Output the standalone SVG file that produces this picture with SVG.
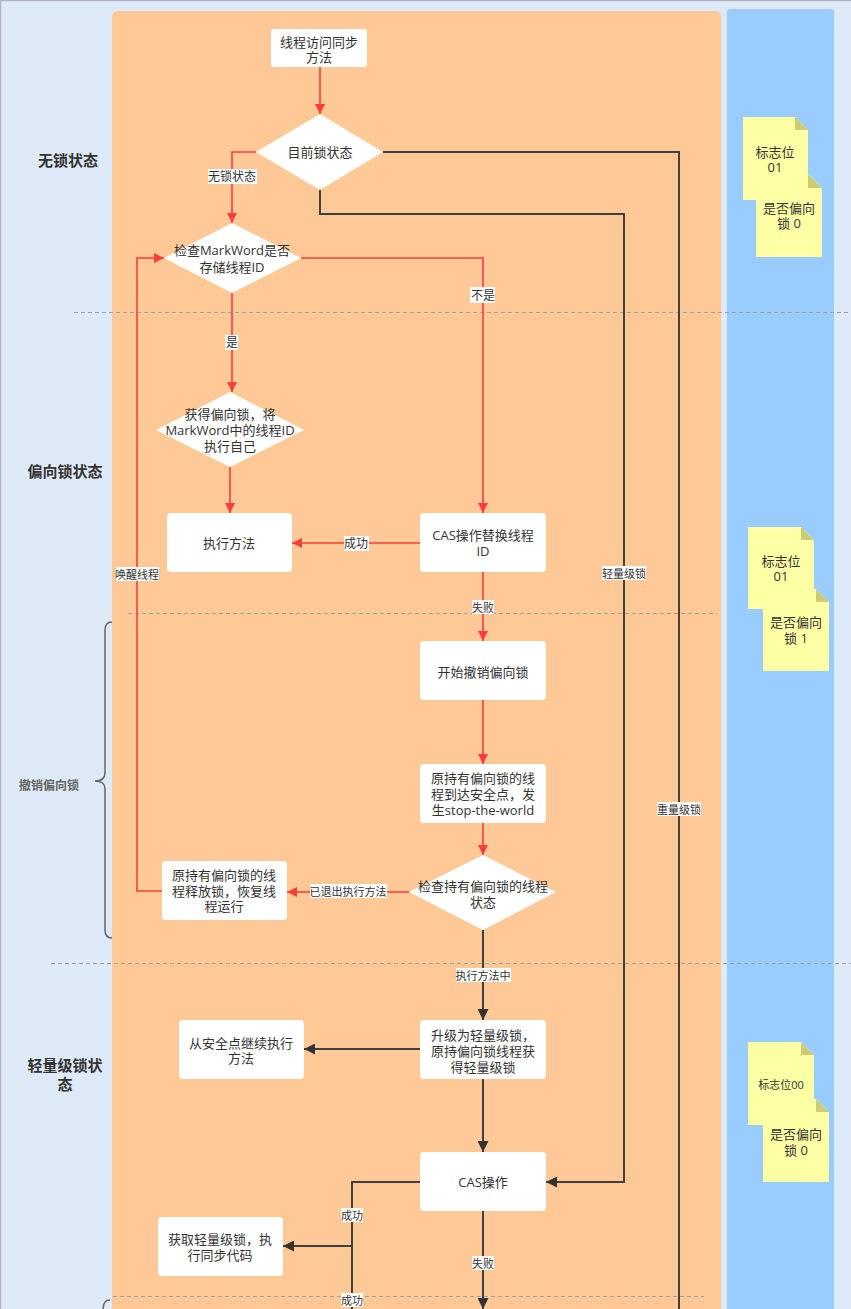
<svg xmlns="http://www.w3.org/2000/svg" width="851" height="1309" viewBox="0 0 851 1309">
<style>
text{font-family:"Open Sans","Noto Sans CJK SC",sans-serif;fill:#333;dominant-baseline:central;text-anchor:middle}
.nt{font-size:13px}
.lane{font-size:15px;font-weight:bold}
.l12{font-size:12px}
.l11{font-size:11px}
.box{fill:#fff}
.red{fill:none;stroke:#ff3b3b;stroke-width:1.6}
.dark{fill:none;stroke:#404040;stroke-width:2}
.dash{stroke:#a0a0a0;stroke-width:1;stroke-dasharray:4 3;fill:none}
.lb{fill:#fff}
.note{fill:#ffffa6}
.fold{fill:#cccc77}
</style>
<defs>
<marker id="ar" viewBox="0 0 10 10" refX="10" refY="5" markerWidth="10" markerHeight="10" markerUnits="userSpaceOnUse" orient="auto"><path d="M0,0L10,5L0,10z" fill="#ff3b3b"/></marker>
<marker id="ad" viewBox="0 0 10 10" refX="10" refY="5" markerWidth="11" markerHeight="11" markerUnits="userSpaceOnUse" orient="auto"><path d="M0,0L10,5L0,10z" fill="#333"/></marker>
</defs>
<g id="background">
<rect x="0" y="0" width="851" height="1309" fill="#dfeaf8"/>
<path d="M0.5,1309V0.5H851" fill="none" stroke="#b0b4c0" stroke-width="1.5"/>
<rect x="112" y="11" width="609" height="1310" rx="5" fill="#fec997"/>
<rect x="727" y="9" width="107" height="1310" rx="3" fill="#99ccff"/>
<line class="dash" x1="74" y1="312.5" x2="851" y2="312.5"/>
<line class="dash" x1="128" y1="613.5" x2="717" y2="613.5"/>
<line class="dash" x1="51" y1="963.5" x2="851" y2="963.5"/>
<line class="dash" x1="113" y1="1296.5" x2="704" y2="1296.5"/>
</g>
<g id="lanes">
<text class="lane" x="68" y="160">无锁状态</text>
<text class="lane" x="65" y="471">偏向锁状态</text>
<text x="49" y="785" style="font-size:12px;font-weight:bold;fill:#666">撤销偏向锁</text>
<path d="M112,622 Q105,622 105,630 L105,773 Q105,781 95,781 Q105,781 105,789 L105,930 Q105,938 112,938" fill="none" stroke="#666" stroke-width="1.5"/>
<text class="lane" x="65" y="1065">轻量级锁状</text>
<text class="lane" x="65" y="1084">态</text>
<path d="M110,1300 Q103,1300 103,1310" fill="none" stroke="#666" stroke-width="1.5"/>
</g>
<g id="connectors">
<path class="red" d="M320,67V114" marker-end="url(#ar)"/>
<path class="red" d="M256,152H232V223" marker-end="url(#ar)"/>
<path class="red" d="M232,293V392" marker-end="url(#ar)"/>
<path class="red" d="M230,467V513" marker-end="url(#ar)"/>
<path class="red" d="M301,258H483V513" marker-end="url(#ar)"/>
<path class="red" d="M420,543H292" marker-end="url(#ar)"/>
<path class="red" d="M483,572V641" marker-end="url(#ar)"/>
<path class="red" d="M483,700V764" marker-end="url(#ar)"/>
<path class="red" d="M483,823V855" marker-end="url(#ar)"/>
<path class="red" d="M409,892H287" marker-end="url(#ar)"/>
<path class="red" d="M162,891H137V258H164" marker-end="url(#ar)"/>
<path class="dark" d="M383,152H679V1320"/>
<path class="dark" d="M320,190V214H624V1182H546" marker-end="url(#ad)"/>
<path class="dark" d="M483,930V1020" marker-end="url(#ad)"/>
<path class="dark" d="M420,1049H304" marker-end="url(#ad)"/>
<path class="dark" d="M483,1079V1152" marker-end="url(#ad)"/>
<path class="dark" d="M420,1182H352V1320"/>
<path class="dark" d="M352,1246H283" marker-end="url(#ad)"/>
<path class="dark" d="M483,1211V1309" marker-end="url(#ad)"/>
<rect class="lb" x="208" y="169" width="49" height="15"/><text class="l12" x="232" y="176">无锁状态</text>
<rect class="lb" x="225" y="335" width="13" height="15"/><text class="l12" x="232" y="342">是</text>
<rect class="lb" x="470" y="287" width="25" height="16"/><text class="l12" x="483" y="295">不是</text>
<rect class="lb" x="344" y="536" width="25" height="15"/><text class="l12" x="356" y="543">成功</text>
<rect class="lb" x="472" y="600" width="22" height="14"/><text class="l11" x="483" y="607">失败</text>
<rect class="lb" x="116" y="567" width="43" height="14"/><text class="l11" x="137" y="574">唤醒线程</text>
<rect class="lb" x="310" y="884" width="77" height="14"/><text class="l11" x="348" y="891">已退出执行方法</text>
<rect class="lb" x="602" y="566" width="44" height="14"/><text class="l11" x="624" y="573">轻量级锁</text>
<rect class="lb" x="657" y="802" width="44" height="14"/><text class="l11" x="679" y="809">重量级锁</text>
<rect class="lb" x="456" y="968" width="55" height="14"/><text class="l11" x="483" y="975">执行方法中</text>
<rect class="lb" x="341" y="1208" width="22" height="14"/><text class="l11" x="352" y="1215">成功</text>
<rect class="lb" x="341" y="1293" width="22" height="14"/><text class="l11" x="352" y="1300">成功</text>
<rect class="lb" x="472" y="1256" width="22" height="14"/><text class="l11" x="483" y="1263">失败</text>
</g>
<g id="n1"><rect class="box" x="271" y="29" width="96" height="38" rx="3"/><text class="nt" x="319" y="42">线程访问同步</text><text class="nt" x="319" y="57">方法</text></g>
<g id="n2"><polygon class="box" points="320,114 383,152 320,190 256,152"/><text class="nt" x="320" y="152">目前锁状态</text></g>
<g id="n3"><polygon class="box" points="232,223 301,258 232,293 164,258"/><text class="nt" x="232" y="250">检查MarkWord是否</text><text class="nt" x="232" y="267">存储线程ID</text></g>
<g id="n4"><polygon class="box" points="230,392 304,430 230,467 156,430"/><text class="nt" x="230" y="414">获得偏向锁，将</text><text class="nt" x="230" y="430">MarkWord中的线程ID</text><text class="nt" x="230" y="446">执行自己</text></g>
<g id="n5"><rect class="box" x="167" y="513" width="125" height="59" rx="4"/><text class="nt" x="229" y="543">执行方法</text></g>
<g id="n6"><rect class="box" x="420" y="513" width="126" height="59" rx="4"/><text class="nt" x="483" y="535">CAS操作替换线程</text><text class="nt" x="483" y="551">ID</text></g>
<g id="n7"><rect class="box" x="420" y="641" width="126" height="59" rx="4"/><text class="nt" x="483" y="672">开始撤销偏向锁</text></g>
<g id="n8"><rect class="box" x="420" y="764" width="126" height="59" rx="4"/><text class="nt" x="483" y="778">原持有偏向锁的线</text><text class="nt" x="483" y="794">程到达安全点，发</text><text class="nt" x="483" y="810">生stop-the-world</text></g>
<g id="n9"><polygon class="box" points="483,855 556,892 483,930 409,892"/><text class="nt" x="483" y="886">检查持有偏向锁的线程</text><text class="nt" x="483" y="902">状态</text></g>
<g id="n10"><rect class="box" x="162" y="861" width="125" height="59" rx="4"/><text class="nt" x="224" y="875">原持有偏向锁的线</text><text class="nt" x="224" y="891">程释放锁，恢复线</text><text class="nt" x="224" y="906">程运行</text></g>
<g id="n11"><rect class="box" x="179" y="1020" width="125" height="59" rx="4"/><text class="nt" x="241" y="1043">从安全点继续执行</text><text class="nt" x="241" y="1058">方法</text></g>
<g id="n12"><rect class="box" x="420" y="1020" width="126" height="59" rx="4"/><text class="nt" x="483" y="1035">升级为轻量级锁，</text><text class="nt" x="483" y="1051">原持偏向锁线程获</text><text class="nt" x="483" y="1067">得轻量级锁</text></g>
<g id="n13"><rect class="box" x="420" y="1152" width="126" height="59" rx="4"/><text class="nt" x="483" y="1182">CAS操作</text></g>
<g id="n14"><rect class="box" x="158" y="1217" width="125" height="59" rx="4"/><text class="nt" x="220" y="1239">获取轻量级锁，执</text><text class="nt" x="220" y="1255">行同步代码</text></g>
<g id="notes1">
<path class="note" d="M743,117H795L808,130V200H743Z"/><path class="fold" d="M795,117L808,130H795Z"/>
<text class="nt" x="775" y="152">标志位</text><text class="nt" x="775" y="167">01</text>
<path class="note" d="M756,174H808L822,188V257H756Z"/><path class="fold" d="M808,174L822,188H808Z"/>
<text class="nt" x="789" y="208">是否偏向</text><text class="nt" x="789" y="223">锁 0</text>
</g>
<g id="notes2">
<path class="note" d="M748,527H801L814,540V609H748Z"/><path class="fold" d="M801,527L814,540H801Z"/>
<text class="nt" x="781" y="561">标志位</text><text class="nt" x="781" y="576">01</text>
<path class="note" d="M763,589H816L829,602V671H763Z"/><path class="fold" d="M816,589L829,602H816Z"/>
<text class="nt" x="796" y="622">是否偏向</text><text class="nt" x="796" y="638">锁 1</text>
</g>
<g id="notes3">
<path class="note" d="M748,1042H801L814,1055V1125H748Z"/><path class="fold" d="M801,1042L814,1055H801Z"/>
<text class="l11" x="781" y="1084">标志位00</text>
<path class="note" d="M763,1099H816L829,1112V1182H763Z"/><path class="fold" d="M816,1099L829,1112H816Z"/>
<text class="nt" x="796" y="1134">是否偏向</text><text class="nt" x="796" y="1150">锁 0</text>
</g>
</svg>
